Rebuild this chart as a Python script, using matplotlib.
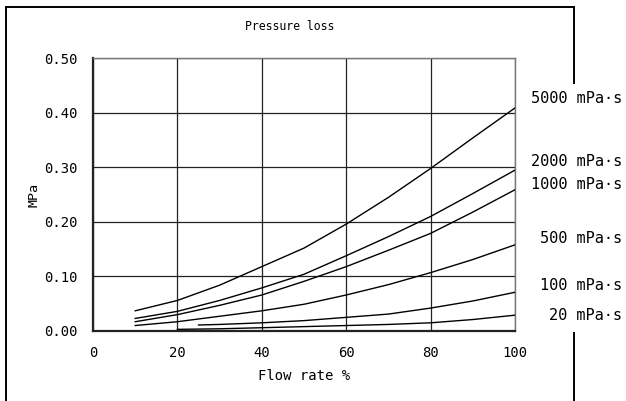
import matplotlib
matplotlib.use("Agg")
import matplotlib.pyplot as plt
from matplotlib.lines import Line2D

plt.rcParams['font.family'] = ['DejaVu Sans Mono']

# flow rate (%) and pressure loss (MPa)
flow_main = [10, 20, 30, 40, 50, 60, 70, 80, 90, 100]
loss_5000 = [0.037, 0.056, 0.084, 0.118, 0.152, 0.196, 0.245, 0.298, 0.354, 0.409]
loss_2000 = [0.023, 0.036, 0.056, 0.079, 0.104, 0.138, 0.173, 0.210, 0.252, 0.295]
loss_1000 = [0.017, 0.030, 0.047, 0.066, 0.091, 0.118, 0.148, 0.179, 0.218, 0.259]
loss_500 = [0.010, 0.017, 0.027, 0.037, 0.049, 0.066, 0.085, 0.107, 0.131, 0.158]

flow_100 = [25, 30, 40, 50, 60, 70, 80, 90, 100]
loss_100 = [0.011, 0.012, 0.015, 0.019, 0.025, 0.031, 0.042, 0.055, 0.071]

flow_20 = [20, 30, 40, 50, 60, 70, 80, 90, 100]
loss_20 = [0.003, 0.004, 0.006, 0.008, 0.010, 0.012, 0.015, 0.021, 0.029]

labels = ['5000 mPa·s', '2000 mPa·s', '1000 mPa·s', '500 mPa·s', '100 mPa·s', '20 mPa·s']
label_y = [0.427, 0.310, 0.268, 0.169, 0.083, 0.029]

x_ticks = [0, 20, 40, 60, 80, 100]
y_ticks = [0.0, 0.1, 0.2, 0.3, 0.4, 0.5]

fig = plt.figure(figsize=(6.26, 4.01), dpi=100)
ax = fig.add_axes([0.1486, 0.1746, 0.6741, 0.68])

series = [
    (flow_main, loss_5000),
    (flow_main, loss_2000),
    (flow_main, loss_1000),
    (flow_main, loss_500),
    (flow_100, loss_100),
    (flow_20, loss_20),
]
for fx, fy in series:
    ax.plot(fx, fy, color='black', lw=1.0, zorder=3)

ax.set_xlim(0, 100)
ax.set_ylim(0, 0.5)
ax.set_xticks(x_ticks)
ax.set_yticks(y_ticks)
ax.set_yticklabels(['%.2f' % v for v in y_ticks])
ax.grid(True, color='#222222', lw=0.9)
ax.tick_params(length=0, labelsize=10, pad=11)
ax.tick_params(axis='x', pad=11)

for side in ['top', 'right']:
    ax.spines[side].set_color('#777777')
    ax.spines[side].set_linewidth(1.0)
for side in ['left', 'bottom']:
    ax.spines[side].set_color('#222222')
    ax.spines[side].set_linewidth(1.6)

ax.set_xlabel('Flow rate %', fontsize=10, labelpad=6)
ax.set_ylabel('MPa', fontsize=9.6, labelpad=3)
fig.text(290 / 626, 1 - 27 / 401, 'Pressure loss', fontsize=8.3, ha='center', va='center')

for lab, yv in zip(labels, label_y):
    ax.text(1.2536, yv, lab, transform=ax.get_yaxis_transform(), fontsize=11,
            ha='right', va='center')

# outer frame (broken on the right by the labels)
W, H = 626, 401
def fl(x0, y0, x1, y1):
    fig.add_artist(Line2D([x0 / W, x1 / W], [1 - y0 / H, 1 - y1 / H],
                          color='black', lw=1.4, transform=fig.transFigure))
fl(6, 7, 574, 7)
fl(6, 7, 6, 401)
fl(574, 7, 574, 83)
fl(574, 333, 574, 401)

fig.savefig('out.png', dpi=100)
